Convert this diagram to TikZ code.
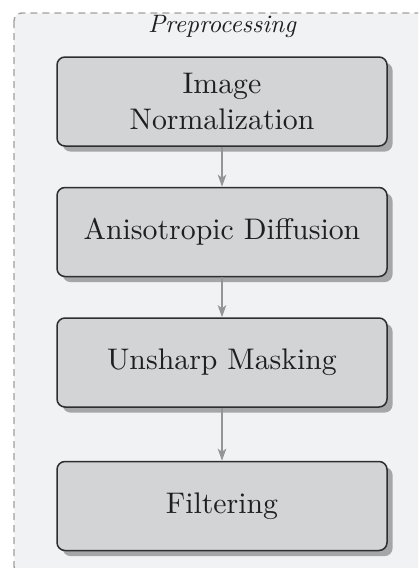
\documentclass[tikz,border=0pt]{standalone}
\usepackage{fontspec}
\setmainfont{lmroman10-regular.otf}[ItalicFont=lmroman10-italic.otf, BoldFont=lmroman10-bold.otf]
\usetikzlibrary{arrows.meta,shadows}
\definecolor{outerbg}{HTML}{F1F2F4}
\definecolor{outerline}{HTML}{A0A0A2}
\definecolor{boxfill}{HTML}{D3D4D6}
\definecolor{boxline}{HTML}{2E2E30}
\definecolor{shadowc}{HTML}{A6A6A8}
\definecolor{arrowc}{HTML}{959597}
\tikzset{
  stepbox/.style={draw=boxline, fill=boxfill, line width=0.75pt, rounded corners=4pt,
    minimum width=165pt, minimum height=44.5pt, align=center, inner sep=0pt,
    font=\fontsize{14.9}{18}\selectfont, text=black!88,
    drop shadow={shadow xshift=2.8pt, shadow yshift=-2.8pt, fill=shadowc, opacity=1}},
  flow/.style={draw=arrowc, line width=1pt, -{Stealth[length=6pt,width=4.2pt,inset=1.5pt]}},
  groupbox/.style={draw=outerline, fill=outerbg, line width=0.7pt, dash pattern=on 3.5pt off 2.5pt, rounded corners=4pt}
}
\begin{document}
\begin{tikzpicture}[x=0.5pt,y=-0.5pt]
\useasboundingbox (0,0) rectangle (418,568);
\clip (0,0) rectangle (418,568);
\draw[groupbox] (14,13) rectangle (434,574);
\node[font=\fontsize{12.6}{15}\selectfont\itshape, anchor=base, text=black!88] (title) at (222,32) {Preprocessing};
\node[stepbox] (n1) at (222,101.5) {Image\\Normalization};
\node[stepbox] (n2) at (222,232) {Anisotropic Diffusion};
\node[stepbox] (n3) at (222,362.5) {Unsharp Masking};
\node[stepbox] (n4) at (222,506) {Filtering};
\draw[flow] (n1) -- (n2);
\draw[flow] (n2) -- (n3);
\draw[flow] (n3) -- (n4);
\end{tikzpicture}
\end{document}
